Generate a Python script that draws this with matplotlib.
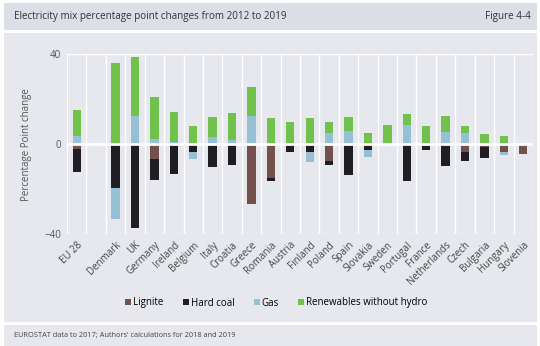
import numpy as np
import matplotlib.pyplot as plt
from matplotlib.patches import Rectangle

countries = ["EU 28", "", "Denmark", "UK", "Germany", "Ireland", "Belgium", "Italy",
             "Croatia", "Greece", "Romania", "Austria", "Finland", "Poland", "Spain",
             "Slovakia", "Sweden", "Portugal", "France", "Netherlands", "Czech",
             "Bulgaria", "Hungary", "Slovenia"]

lignite = [-2, 0, 0, 0, -6.5, 0, 0, 0, 0, -26.8, -14.9, 0, 0, -7.4, 0, -0.5,
           0, 0, 0, 0, -3.7, -1.5, -3.7, -4.5]
hard_coal = [-10.5, 0, -19.6, -37.2, -9.4, -13.4, -3.5, -10, -9.4, 0, -1.5, -3.5,
             -3.7, -2, -13.6, -2, 0, -16.4, -2.7, -9.7, -3.7, -4.9, 0, 0]
gas = [3.5, 0, -13.8, 12.3, 2.2, 1, -3, 3, 2, 12.3, 0, 0, -4.2, 5, 6, -3.3,
       0, 8.5, 0, 5.2, 4.8, 0, -1.3, 0]
renewables = [11.4, 0, 36, 26.4, 18.6, 13.4, 8.2, 9.2, 11.8, 13, 11.5, 10, 11.5,
              4.7, 5.9, 4.9, 8.5, 4.9, 8.2, 7.1, 3.1, 4.5, 3.7, 0]

series = [("Lignite", lignite, "#74504c"),
          ("Hard coal", hard_coal, "#201e23"),
          ("Gas", gas, "#96c1d4"),
          ("Renewables without hydro", renewables, "#70c24d")]

bg = "#e6e8ee"
fig = plt.figure(figsize=(5.4, 3.46), dpi=100)
fig.patch.set_facecolor("white")

# header, main panel, footer
fig.patches.append(Rectangle((4/540, 1-30/346), 533/540, 27/346, transform=fig.transFigure,
                             facecolor="#dcdfe6", edgecolor="none", zorder=-2))
fig.patches.append(Rectangle((4/540, 1-322/346), 533/540, 289/346, transform=fig.transFigure,
                             facecolor=bg, edgecolor="none", zorder=-2))
fig.patches.append(Rectangle((4/540, 0), 533/540, 21/346, transform=fig.transFigure,
                             facecolor=bg, edgecolor="none", zorder=-2))

fig.text(14/540, 1-16/346, "Electricity mix percentage point changes from 2012 to 2019",
         fontsize=7.1, family="Open Sans", color="#333333", va="center")
fig.text(531/540, 1-16/346, "Figure 4-4", fontsize=7.1, family="Open Sans",
         color="#333333", va="center", ha="right")
fig.text(14/540, 11/346, "EUROSTAT data to 2017; Authors' calculations for 2018 and 2019",
         fontsize=5.3, family="Open Sans", color="#444444", va="center")

ax = fig.add_axes([67/540, 1-234/346, 466/540, 180/346])
ax.set_facecolor(bg)
x = np.arange(len(countries))

pos_bottom = np.zeros(len(countries))
neg_bottom = np.zeros(len(countries))
handles = []
for name, vals, col in series:
    v = np.array(vals, dtype=float)
    bottom = np.where(v >= 0, pos_bottom, neg_bottom)
    b = ax.bar(x, v, 0.43, bottom=bottom, color=col, label=name, zorder=3)
    pos_bottom = pos_bottom + np.where(v > 0, v, 0)
    neg_bottom = neg_bottom + np.where(v < 0, v, 0)
    handles.append(b)

for xv in np.arange(-0.5, len(countries), 1.0):
    ax.axvline(xv, color="white", lw=1, zorder=1)
for yv in [-40, 40]:
    ax.axhline(yv, color="white", lw=1, zorder=1)
ax.axhline(0, color="white", lw=2, zorder=4)

ax.set_xlim(-0.5, len(countries) - 0.5)
ax.set_ylim(-40, 40)
ax.set_yticks([-40, 0, 40])
ax.set_xticks(x)
ax.set_xticklabels(countries, rotation=45, ha="right", rotation_mode="anchor",
                   fontsize=7, family="Open Sans", color="#444444")
for lab in ax.get_yticklabels():
    lab.set_fontsize(7)
    lab.set_family("Open Sans")
    lab.set_color("#555555")
ax.tick_params(length=0, pad=4)
for s in ax.spines.values():
    s.set_visible(False)

fig.text(27/540, 1-145/346, "Percentage Point change", rotation=90, fontsize=7,
         family="Open Sans", color="#555555", va="center", ha="center")

fig.legend(handles=handles, loc="center", bbox_to_anchor=(0.512, 1-303/346), ncol=4,
           frameon=False, handlelength=0.6, handleheight=0.6, handletextpad=0.2,
           columnspacing=2.0, prop={"family": "Open Sans", "size": 7})

fig.savefig("out.png", dpi=100, facecolor="white")
